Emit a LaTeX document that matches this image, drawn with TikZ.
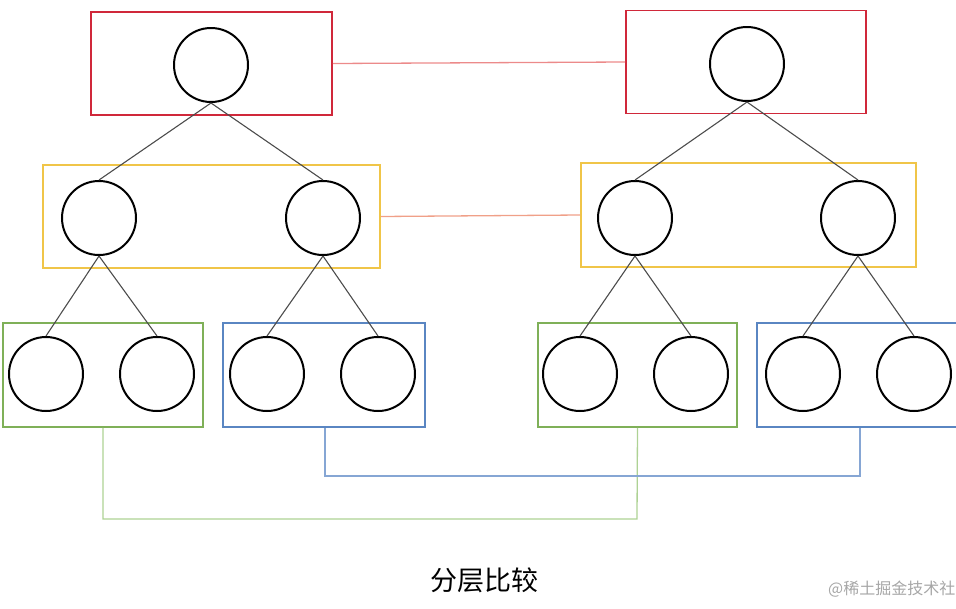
\documentclass[tikz,border=0pt]{standalone}
\usepackage{fontspec}
\newfontfamily\cjk{Noto Sans CJK SC}
\definecolor{cred}{HTML}{D0283A}
\definecolor{cyellow}{HTML}{F0C548}
\definecolor{cgreen}{HTML}{7FB058}
\definecolor{cblue}{HTML}{5A86C2}
\definecolor{lred}{HTML}{EC8A8A}
\definecolor{lorange}{HTML}{F0A088}
\definecolor{lgreen}{HTML}{AED294}
\definecolor{lblue}{HTML}{86A6D4}
\begin{document}
\begin{tikzpicture}[x=1pt,y=-1pt,
  vtx/.style={circle,draw=black,line width=2pt,minimum size=74pt,inner sep=0pt},
  grp/.style={rectangle,draw,line width=1.8pt,inner sep=0pt},
  edge/.style={draw=black!70,line width=1.1pt},
  link/.style={line width=1.3pt}]
\useasboundingbox (0,0) rectangle (956,608);
% boxes
\node[grp,draw=cred,minimum width=241pt,minimum height=103pt] (RL) at (211.5,63.5) {};
\node[grp,draw=cred,minimum width=240pt,minimum height=103pt] (RR) at (746,62) {};
\node[grp,draw=cyellow,minimum width=337pt,minimum height=103pt] (YL) at (211.5,216.5) {};
\node[grp,draw=cyellow,minimum width=335pt,minimum height=104pt] (YR) at (748.5,215) {};
\node[grp,draw=cgreen,minimum width=200pt,minimum height=104pt] (GL) at (103,375) {};
\node[grp,draw=cblue,minimum width=202pt,minimum height=104pt] (BL) at (324,375) {};
\node[grp,draw=cgreen,minimum width=199pt,minimum height=104pt] (GR) at (637.5,375) {};
\node[grp,draw=cblue,minimum width=210pt,minimum height=104pt] (BR) at (862,375) {};
% vertices
\node[vtx] (a)  at (211,65) {};
\node[vtx] (b1) at (99,218) {};
\node[vtx] (b2) at (323,218) {};
\node[vtx] (c1) at (46,374) {};
\node[vtx] (c2) at (157,374) {};
\node[vtx] (c3) at (267,374) {};
\node[vtx] (c4) at (378,374) {};
\node[vtx] (A)  at (747,64) {};
\node[vtx] (B1) at (635,218) {};
\node[vtx] (B2) at (858,218) {};
\node[vtx] (C1) at (580,374) {};
\node[vtx] (C2) at (691,374) {};
\node[vtx] (C3) at (803,374) {};
\node[vtx] (C4) at (914,374) {};
% tree edges
\draw[edge] (a.south) -- (b1.north);
\draw[edge] (a.south) -- (b2.north);
\draw[edge] (b1.south) -- (c1.north);
\draw[edge] (b1.south) -- (c2.north);
\draw[edge] (b2.south) -- (c3.north);
\draw[edge] (b2.south) -- (c4.north);
\draw[edge] (A.south) -- (B1.north);
\draw[edge] (A.south) -- (B2.north);
\draw[edge] (B1.south) -- (C1.north);
\draw[edge] (B1.south) -- (C2.north);
\draw[edge] (B2.south) -- (C3.north);
\draw[edge] (B2.south) -- (C4.north);
% level links
\draw[link,lred] (RL.east) -- (RR.west);
\draw[link,lorange] (YL.east) -- (YR.west);
\coordinate (g1) at (103,519);
\coordinate (g2) at (637,519);
\coordinate (u1) at (325,476);
\coordinate (u2) at (860,476);
\draw[link,lgreen] (GL.south) -- (g1) -- (g2) -- (GR.south);
\draw[link,lblue] (u1 |- BL.south) -- (u1) -- (u2) -- (u2 |- BR.south);
% texts
\node (title) at (484,580) {\cjk\fontsize{27pt}{30pt}\selectfont 分层比较};
\node[anchor=west,text=black!35,inner sep=0pt] (wm) at (828,589) {\cjk\fontsize{16pt}{18pt}\selectfont @稀土掘金技术社};
\end{tikzpicture}
\end{document}
